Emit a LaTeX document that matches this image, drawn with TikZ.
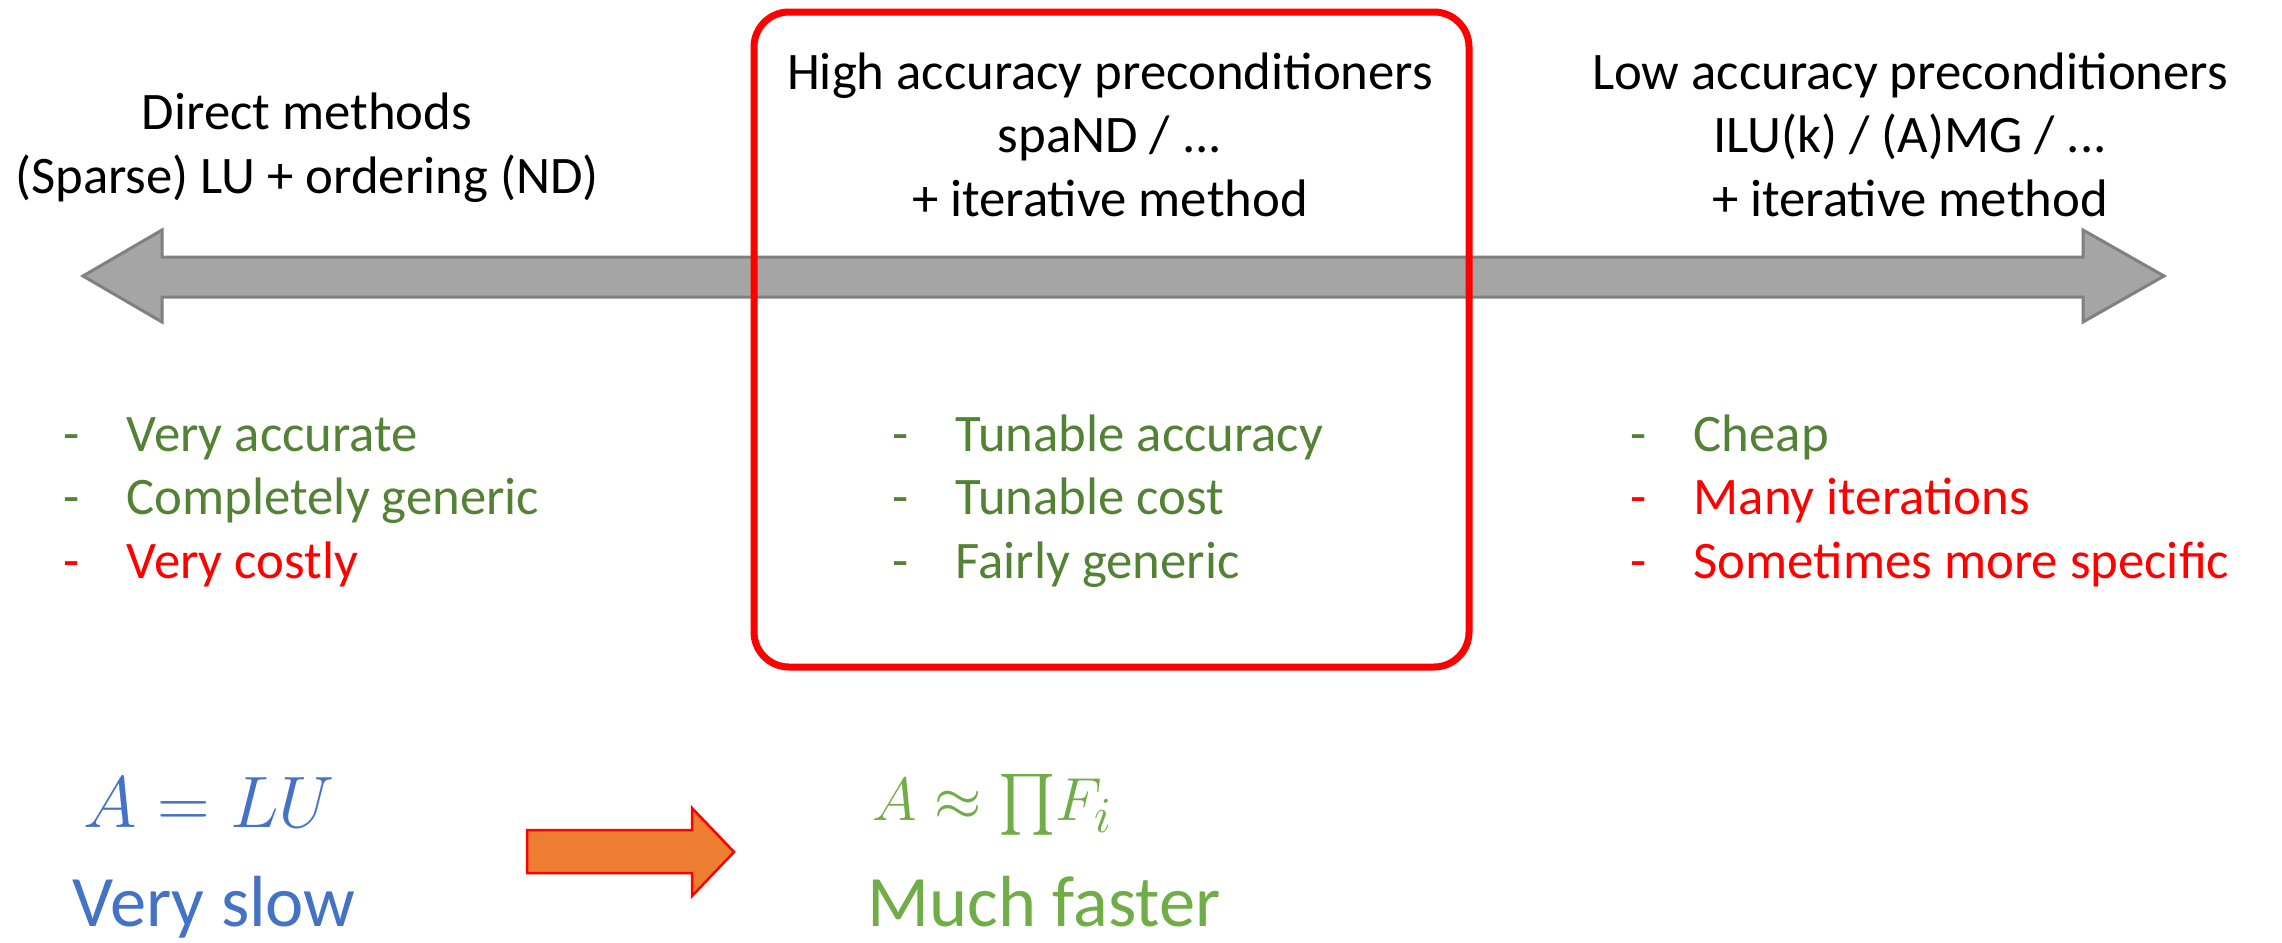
\documentclass[tikz,border=0pt]{standalone}
\usepackage{fontspec}
\setmainfont{Carlito}
\usepackage{amsmath}
\usepackage{tikz}

\definecolor{listgreen}{HTML}{548235}
\definecolor{eqblue}{HTML}{4472C4}
\definecolor{eqgreen}{HTML}{70AD47}
\definecolor{blockorange}{HTML}{ED7D31}
\definecolor{bargray}{HTML}{A5A5A5}
\definecolor{barline}{HTML}{808080}

% one line of a pro/con list: dash, then the text
\newcommand{\litem}[2]{\textcolor{#1}{\makebox[0.63cm][l]{-}#2}}

\begin{document}
\begin{tikzpicture}[
  x=0.01cm, y=-0.01cm,
  title/.style = {align=center, anchor=base, inner sep=0pt, font=\fontsize{15pt}{18pt}\selectfont},
  list/.style = {align=left, anchor=base west, inner sep=0pt, font=\fontsize{15pt}{18pt}\selectfont},
  big/.style = {anchor=base west, inner sep=0pt, font=\fontsize{20.6pt}{24pt}\selectfont},
  bar/.style = {draw=barline, fill=bargray, line width=0.03cm},
  focus/.style = {draw=red, line width=0.07cm, rounded corners=0.35cm},
  block/.style = {draw=red, fill=blockorange, line width=0.025cm}
]
\useasboundingbox (0,0) rectangle (2282,942);

% Spectrum bar
\draw[bar] (83,276) -- (162,230) -- (162,257) -- (2083,257) -- (2083,230) -- (2164,276)
  -- (2083,322) -- (2083,297) -- (162,297) -- (162,322) -- cycle;

% Highlight box round the middle column
\draw[focus] (754,12) rectangle (1469,667);

% Column titles (anchored at the last line)
\node[title] at (307,193) (direct) {Direct methods\\(Sparse) LU + ordering (ND)};
\node[title] at (1110,216) (highacc) {High accuracy preconditioners\\spaND / ...\\+ iterative method};
\node[title] at (1910,216) (lowacc) {Low accuracy preconditioners\\ILU(k) / (A)MG / ...\\+ iterative method};

% Pros and cons
\node[list] at (63,578) (directpros) {\litem{listgreen}{Very accurate}\\\litem{listgreen}{Completely generic}\\\litem{red}{Very costly}};
\node[list] at (892,578) (highaccpros) {\litem{listgreen}{Tunable accuracy}\\\litem{listgreen}{Tunable cost}\\\litem{listgreen}{Fairly generic}};
\node[list] at (1630,578) (lowaccpros) {\litem{listgreen}{Cheap}\\\litem{red}{Many iterations}\\\litem{red}{Sometimes more specific}};

% Bottom comparison
\node[big, text=eqblue, font=\fontsize{19.5pt}{23pt}\selectfont] at (83,827) (exact) {$A = LU$};
\node[big, text=eqblue] at (72,926) (exactspeed) {Very slow};
\node[big, text=eqgreen, font=\fontsize{19pt}{22pt}\selectfont] at (872,820) (approx) {$A \approx \textstyle\prod\!F_i$};
\node[big, text=eqgreen] at (867,926) (approxspeed) {Much faster};

\draw[block] (527,830) -- (692,830) -- (692,808) -- (734,852) -- (692,896) -- (692,873) -- (527,873) -- cycle;

\end{tikzpicture}
\end{document}
